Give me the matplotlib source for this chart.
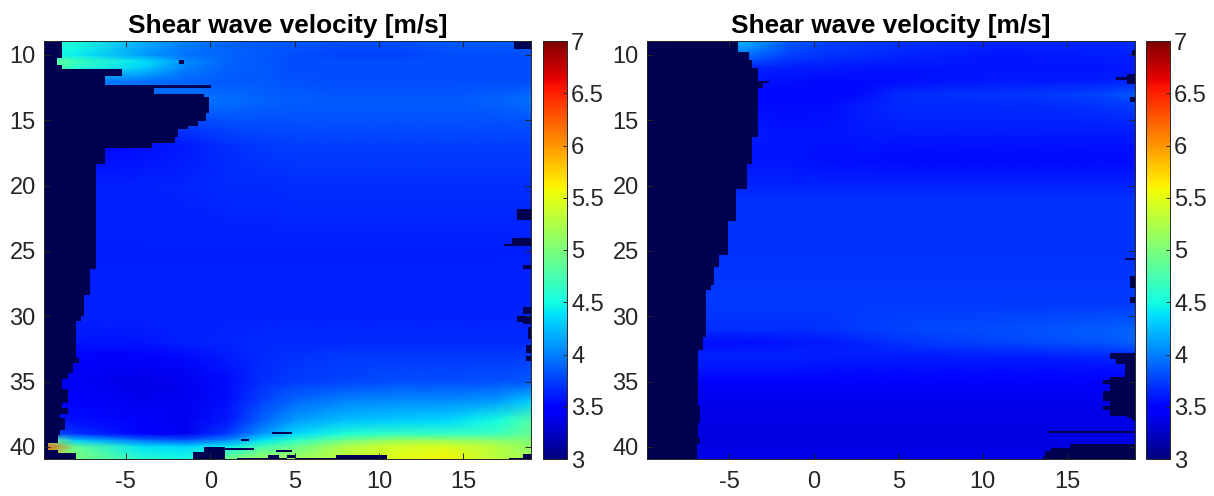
import numpy as np
import matplotlib
matplotlib.use('Agg')
import matplotlib.pyplot as plt

plt.rcParams['font.family'] = ['Liberation Sans', 'DejaVu Sans']
plt.rcParams['axes.unicode_minus'] = False

title_text = 'Shear wave velocity [m/s]'
x_ticks = [-5, 0, 5, 10, 15]
y_ticks = [10, 15, 20, 25, 30, 35, 40]
cbar_ticks = [3, 3.5, 4, 4.5, 5, 5.5, 6, 6.5, 7]
cbar_labels = ['3', '3.5', '4', '4.5', '5', '5.5', '6', '6.5', '7']

x_nodes = [-9.9, -8, -4, -1.5, 1, 3, 5, 8, 11, 14, 17, 19]

left_depths = [9, 10, 10.5, 11, 12, 13.5, 15, 17, 20, 25, 30, 32, 33, 35, 36.5, 38, 39, 39.5, 40, 41]
left_values = [
    [4.60, 4.55, 4.20, 4.00, 3.90, 3.85, 3.85, 3.80, 3.80, 3.85, 3.85, 3.85],
    [4.50, 4.45, 4.10, 3.95, 3.90, 3.85, 3.80, 3.75, 3.75, 3.80, 3.80, 3.80],
    [5.00, 4.70, 4.40, 4.05, 3.90, 3.85, 3.80, 3.80, 3.80, 3.80, 3.80, 3.80],
    [4.90, 4.60, 4.30, 4.00, 3.88, 3.85, 3.80, 3.80, 3.80, 3.80, 3.80, 3.80],
    [4.00, 4.00, 3.95, 3.90, 3.85, 3.85, 3.82, 3.80, 3.80, 3.80, 3.80, 3.80],
    [3.90, 3.90, 3.92, 3.95, 3.95, 3.90, 3.87, 3.85, 3.85, 3.85, 3.90, 3.95],
    [3.78, 3.78, 3.78, 3.78, 3.82, 3.82, 3.82, 3.82, 3.82, 3.82, 3.82, 3.82],
    [3.45, 3.45, 3.55, 3.60, 3.68, 3.72, 3.74, 3.74, 3.74, 3.74, 3.74, 3.74],
    [3.63, 3.63, 3.63, 3.65, 3.66, 3.67, 3.68, 3.68, 3.68, 3.68, 3.68, 3.68],
    [3.62, 3.62, 3.62, 3.62, 3.62, 3.62, 3.62, 3.62, 3.62, 3.62, 3.62, 3.62],
    [3.63, 3.63, 3.63, 3.63, 3.63, 3.63, 3.63, 3.63, 3.63, 3.63, 3.63, 3.65],
    [3.60, 3.58, 3.58, 3.63, 3.65, 3.67, 3.67, 3.67, 3.67, 3.67, 3.67, 3.67],
    [3.50, 3.45, 3.45, 3.54, 3.62, 3.67, 3.70, 3.72, 3.72, 3.72, 3.72, 3.72],
    [3.45, 3.42, 3.37, 3.40, 3.54, 3.68, 3.74, 3.78, 3.80, 3.80, 3.82, 3.85],
    [3.50, 3.45, 3.40, 3.40, 3.55, 3.75, 3.92, 4.02, 4.05, 4.05, 4.12, 4.30],
    [3.60, 3.55, 3.45, 3.40, 3.60, 3.88, 4.12, 4.25, 4.30, 4.35, 4.50, 4.80],
    [3.85, 3.70, 3.48, 3.40, 3.72, 4.08, 4.35, 4.55, 4.65, 4.65, 4.70, 4.90],
    [5.20, 4.30, 3.95, 3.85, 4.05, 4.40, 4.62, 4.95, 5.15, 5.15, 5.05, 5.00],
    [6.30, 4.90, 4.40, 4.35, 4.45, 4.72, 4.92, 5.25, 5.42, 5.45, 5.28, 5.10],
    [5.30, 5.00, 4.60, 4.50, 5.00, 5.20, 5.20, 5.30, 5.50, 5.60, 5.30, 5.20],
]

right_depths = [9, 10, 11, 12, 13, 14, 16, 18, 20, 21, 25, 29, 31, 32, 33, 34, 35, 37, 39, 41]
right_values = [
    [4.20, 4.20, 4.20, 3.85, 3.75, 3.72, 3.70, 3.68, 3.65, 3.65, 3.65, 3.68],
    [4.00, 4.00, 3.95, 3.75, 3.70, 3.68, 3.65, 3.62, 3.58, 3.60, 3.62, 3.62],
    [3.67, 3.67, 3.65, 3.62, 3.60, 3.58, 3.58, 3.58, 3.58, 3.58, 3.58, 3.58],
    [3.58, 3.58, 3.58, 3.55, 3.54, 3.54, 3.56, 3.58, 3.60, 3.60, 3.62, 3.65],
    [3.54, 3.54, 3.54, 3.52, 3.52, 3.56, 3.66, 3.69, 3.71, 3.73, 3.78, 3.85],
    [3.58, 3.58, 3.56, 3.54, 3.56, 3.62, 3.66, 3.66, 3.66, 3.66, 3.69, 3.72],
    [3.62, 3.62, 3.60, 3.58, 3.58, 3.60, 3.60, 3.60, 3.60, 3.60, 3.60, 3.60],
    [3.58, 3.58, 3.58, 3.58, 3.56, 3.56, 3.54, 3.54, 3.54, 3.54, 3.54, 3.54],
    [3.63, 3.63, 3.63, 3.63, 3.63, 3.63, 3.63, 3.63, 3.63, 3.63, 3.63, 3.63],
    [3.70, 3.70, 3.70, 3.70, 3.70, 3.70, 3.70, 3.70, 3.70, 3.70, 3.70, 3.70],
    [3.70, 3.70, 3.70, 3.70, 3.70, 3.70, 3.70, 3.70, 3.70, 3.70, 3.70, 3.70],
    [3.73, 3.73, 3.73, 3.73, 3.73, 3.73, 3.73, 3.73, 3.73, 3.73, 3.73, 3.73],
    [3.72, 3.68, 3.68, 3.68, 3.70, 3.74, 3.77, 3.79, 3.81, 3.83, 3.86, 3.90],
    [3.60, 3.56, 3.56, 3.58, 3.60, 3.65, 3.70, 3.74, 3.77, 3.80, 3.84, 3.88],
    [3.63, 3.63, 3.63, 3.63, 3.62, 3.62, 3.62, 3.62, 3.62, 3.64, 3.66, 3.66],
    [3.58, 3.58, 3.58, 3.58, 3.56, 3.55, 3.55, 3.55, 3.55, 3.56, 3.56, 3.56],
    [3.46, 3.46, 3.46, 3.46, 3.46, 3.46, 3.46, 3.46, 3.46, 3.46, 3.46, 3.46],
    [3.36, 3.36, 3.36, 3.36, 3.36, 3.36, 3.36, 3.36, 3.36, 3.36, 3.36, 3.36],
    [3.35, 3.35, 3.35, 3.35, 3.35, 3.35, 3.35, 3.35, 3.35, 3.35, 3.35, 3.35],
    [3.36, 3.36, 3.36, 3.36, 3.36, 3.36, 3.36, 3.36, 3.36, 3.36, 3.36, 3.36],
]

# no-data regions: depth top, depth bottom, x start, x end
left_nodata = [
    (9, 10.25, -10, -8.77), (10.25, 10.76, -10, -9.09), (10.76, 11.07, -10, -8.77),
    (11.07, 11.58, -10, -5.24), (11.58, 12.29, -10, -6.23), (12.29, 12.49, -10, 0.07),
    (12.49, 12.95, -10, -3.32), (12.95, 13.18, -10, -0.4), (13.18, 14.45, -10, -0.09),
    (14.45, 15.04, -10, -0.28), (15.04, 15.4, -10, -0.74), (15.4, 15.7, -10, -1.3),
    (15.7, 16.3, -10, -1.9), (16.3, 16.74, -10, -2.08), (16.74, 17.12, -10, -3.46),
    (17.12, 18.32, -10, -6.23), (18.32, 26.4, -10, -6.74), (26.4, 28.37, -10, -7.15),
    (28.37, 30, -10, -7.47), (30, 30.33, -10, -7.66), (30.33, 33.2, -10, -7.96),
    (33.2, 33.6, -10, -7.8), (33.6, 34.35, -10, -8.12), (34.35, 34.8, -10, -8.44),
    (34.8, 35.6, -10, -8.77), (35.6, 36.6, -10, -8.44), (36.6, 37, -10, -8.8),
    (37, 37.45, -10, -8.4), (37.45, 37.8, -10, -8.9), (37.8, 38.7, -10, -8.6),
    (38.7, 39.1, -10, -8.9), (39.1, 39.7, -10, -9.04), (39.7, 40.25, -10, -9.6),
    (40.25, 40.45, -10, -9.04), (40.45, 41, -10, -7.96),
    (9, 9.55, 18, 19.1), (10.4, 10.7, -1.85, -1.55), (21.8, 22.65, 18.2, 19.1),
    (24, 24.6, 17.9, 19.1), (24.45, 24.6, 17.4, 18), (26.1, 26.4, 18.5, 19.1),
    (29.3, 29.8, 18.5, 19.1), (30, 30.4, 18.2, 19.1), (30.4, 30.6, 18.5, 19.1),
    (30.8, 31.75, 18.85, 19.1), (32.2, 32.8, 18.7, 19.1), (33.03, 33.4, 18.7, 19.1),
    (40.03, 41, -0.4, 0.88), (40.4, 41, -1, -0.4), (40.1, 40.2, 0.88, 2.6),
    (39.4, 39.55, 1.8, 2.3), (38.85, 39, 3.65, 4.85), (40.25, 40.4, 3.9, 4.85),
    (40.85, 41, 1.6, 3.4), (40.6, 41, 3.4, 4.05), (40.85, 41, 4.05, 4.55),
    (40.65, 40.85, 4.55, 5), (40.85, 41, 5, 7.45), (40.65, 41, 7.45, 10.45),
    (40.85, 41, 17.7, 19.1), (40.5, 41, 18.5, 19.1),
]

right_nodata = [
    (9, 9.75, -10, -4.45), (9.75, 10.4, -10, -3.8), (10.4, 10.97, -10, -3.62),
    (10.97, 12, -10, -3.3), (12, 12.15, -10, -2.65), (12.15, 12.5, -10, -3),
    (12.5, 16.3, -10, -3.3), (16.3, 18.35, -10, -3.64), (18.35, 20.25, -10, -3.96),
    (20.25, 22.7, -10, -4.6), (22.7, 25.3, -10, -5.07), (25.3, 26.2, -10, -5.58),
    (26.2, 27.6, -10, -5.87), (27.6, 28, -10, -6.04), (28, 31.6, -10, -6.36),
    (31.6, 32.6, -10, -6.54), (32.6, 36.85, -10, -6.85), (36.85, 38.2, -10, -6.7),
    (38.2, 39.3, -10, -6.84), (39.3, 39.8, -10, -6.7), (39.8, 41, -10, -6.87),
    (9.6, 10.1, 18.85, 19.1), (11.7, 11.9, 17.85, 19.1), (11.45, 12.25, 18.55, 19.1),
    (13.25, 13.6, 18.7, 19.1), (25.5, 25.7, 18.4, 19.1), (26.9, 27.8, 18.7, 19.1),
    (28.55, 28.95, 18.7, 19.1),
    (32.8, 33.3, 17.55, 19.1), (33.3, 33.65, 17.9, 19.1), (33.65, 34.65, 18.4, 19.1),
    (34.65, 34.85, 17.55, 19.1), (34.85, 35.15, 17.1, 19.1), (35.15, 35.75, 17.55, 19.1),
    (35.75, 36.45, 17.1, 19.1), (36.45, 36.85, 17.55, 19.1), (36.85, 37.2, 17.1, 19.1),
    (37.2, 37.6, 17.55, 19.1), (37.6, 37.8, 18.55, 19.1), (37.8, 38.05, 18.85, 19.1),
    (38.8, 38.95, 13.87, 19.1), (39.75, 40.08, 15.15, 19.1), (40.08, 40.33, 14.05, 19.1),
    (40.33, 40.7, 13.7, 19.1), (40.7, 41, 13.55, 19.1),
]

W, H = 1214, 496
fig = plt.figure(figsize=(W / 100, H / 100), dpi=100, facecolor='white')
dark = '#262626'
nodata_color = '#000050'
font = 17


def box(x0, x1, y0, y1):
    return [x0 / W, 1 - y1 / H, (x1 - x0) / W, (y1 - y0) / H]


def panel(ax_rect, cax_rect, depths, values, nodata):
    ax = fig.add_axes(box(*ax_rect))
    mesh = ax.pcolormesh(x_nodes, depths, np.array(values), cmap='jet',
                         vmin=3, vmax=7, shading='gouraud', rasterized=True)
    rows = np.array(nodata)
    ax.barh((rows[:, 0] + rows[:, 1]) / 2, rows[:, 3] - rows[:, 2],
            height=rows[:, 1] - rows[:, 0], left=rows[:, 2],
            color=nodata_color, linewidth=0, antialiased=False)
    ax.set_xlim(-9.85, 19.0)
    ax.set_ylim(40.92, 8.93)
    ax.set_xticks(x_ticks)
    ax.set_yticks(y_ticks)
    ax.tick_params(direction='in', top=True, right=True, length=4, width=0.7,
                   color=dark, labelcolor=dark, labelsize=font)
    ax.tick_params(axis='x', pad=9)
    ax.tick_params(axis='y', pad=6)
    for s in ax.spines.values():
        s.set_color(dark)
        s.set_linewidth(0.7)
    ax.set_title(title_text, fontsize=18.9, fontweight='bold', color='black', pad=6)
    cax = fig.add_axes(box(*cax_rect))
    cb = fig.colorbar(mesh, cax=cax)
    cb.set_ticks(cbar_ticks, labels=cbar_labels)
    cb.ax.tick_params(direction='in', length=3, width=0.7, color=dark,
                      labelcolor=dark, labelsize=font, pad=3)
    cb.outline.set_edgecolor(dark)
    cb.outline.set_linewidth(0.7)


panel((44, 531, 41, 459), (543, 567, 41, 459), left_depths, left_values, left_nodata)
panel((647, 1135, 41, 459), (1146, 1170, 41, 459), right_depths, right_values, right_nodata)

fig.savefig('out.png', dpi=100)
